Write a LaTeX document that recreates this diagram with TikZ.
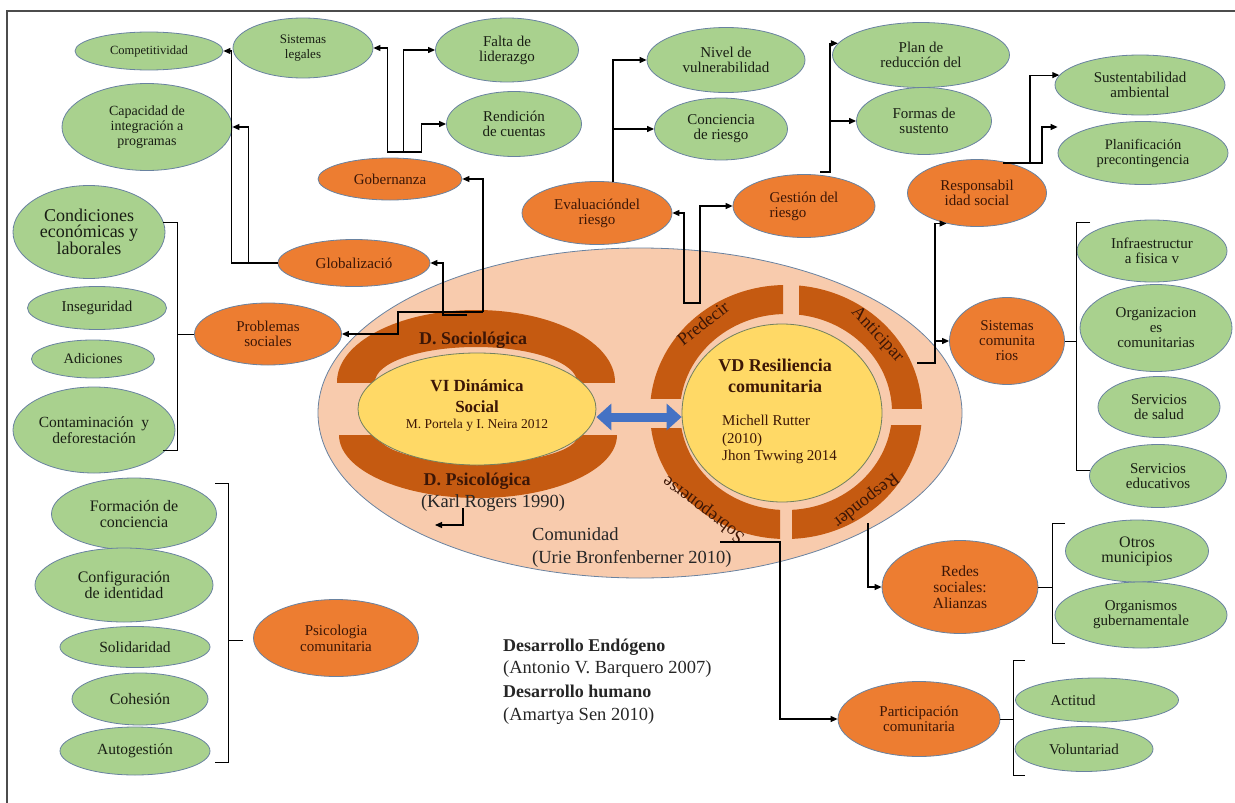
\documentclass[tikz,border=0pt]{standalone}
\usepackage{fontspec}
\setmainfont{Liberation Serif}
\usetikzlibrary{shapes.geometric}
\usetikzlibrary{arrows.meta}
\definecolor{leafgreen}{RGB}{169,209,142}
\definecolor{hubor}{RGB}{237,125,49}
\definecolor{bandbrown}{RGB}{197,90,17}
\definecolor{peach}{RGB}{248,203,173}
\definecolor{sun}{RGB}{255,217,102}
\definecolor{edgeblue}{RGB}{105,130,160}
\definecolor{arrowblue}{RGB}{68,114,196}
\definecolor{inkbrown}{RGB}{60,22,6}
\definecolor{inkdark}{RGB}{25,30,20}
\tikzset{leaf/.style = {ellipse, draw=edgeblue, line width=0.8pt, fill=leafgreen, inner sep=0,
                        align=center, text=inkdark, font=\fontsize{15}{15}\selectfont}}
\tikzset{hub/.style = {ellipse, draw=edgeblue, line width=0.8pt, fill=hubor, inner sep=0,
                       align=center, text=inkbrown, font=\fontsize{15}{15}\selectfont}}
\tikzset{core/.style = {ellipse, draw=edgeblue!60!olive, line width=0.8pt, fill=sun, inner sep=0}}
\tikzset{band/.style = {fill=bandbrown}}
\tikzset{lbl/.style = {inner sep=0, text=inkbrown, font=\fontsize{18}{18}\selectfont}}
\tikzset{txt/.style = {inner sep=0, text=black!85, font=\fontsize{18.5}{18.5}\selectfont}}
\tikzset{arr/.style = {draw=black, line width=1.1pt, -{Triangle[length=7pt, width=6pt]}}}
\tikzset{brk/.style = {draw=black, line width=0.9pt}}
\tikzset{dbl/.style = {draw=arrowblue, line width=9pt,
                       {Triangle[length=15pt, width=26pt]}-{Triangle[length=15pt, width=26pt]}}}

\begin{document}
\begin{tikzpicture}[x=1pt, y=-1pt]
      \useasboundingbox (0,0) rectangle (1235,803);
      \draw [line width=1.2pt, black!70] (7,803) -- (7,11) -- (1235,11);

      \node [ellipse, draw=edgeblue, line width=0.8pt, fill=peach, minimum width=644, minimum height=330] (com) at (640,413) {};

      \begin{scope}
        \clip (320,290) rectangle (640,382);
        \fill [band, even odd rule] (476,382) ellipse (139pt and 72pt) (476,382) ellipse (101pt and 35pt);
      \end{scope}
      \begin{scope}
        \clip (320,435) rectangle (640,520);
        \fill [band, even odd rule] (478,435) ellipse (139pt and 63pt) (478,435) ellipse (100pt and 28pt);
      \end{scope}
      \coordinate (vdc) at (786,412);
      \foreach \xa/\ya/\xb/\yb in {640/270/783/398, 799/270/940/408, 792/425/940/560, 640/428/780/560} {
        \begin{scope}
          \clip (\xa,\ya) rectangle (\xb,\yb);
          \fill [band, even odd rule] (vdc) ellipse (136pt and 127pt) (vdc) ellipse (106pt and 98pt);
        \end{scope}
      }

      \node [core, minimum width=238, minimum height=112] (vi) at (477,409) {};
      \node [core, minimum width=200, minimum height=178] (vd) at (782,413) {};

      \node [lbl, anchor=base, font=\bfseries\fontsize{18}{18}\selectfont] (soc) at (473,344) {D. Sociológica};
      \node [lbl, anchor=base, font=\bfseries\fontsize{18}{18}\selectfont] (psi) at (477,485) {D. Psicológica};
      \node [txt, anchor=base] (rogers) at (493,507) {(Karl Rogers 1990)};
      \node [lbl, rotate=38] (pred) at (703,323) {Predecir};
      \node [lbl, rotate=-47] (anti) at (877,335) {Anticipar};
      \node [lbl, rotate=218] (respo) at (866,500) {Responder};
      \node [lbl, rotate=143] (sobre) at (704,509) {Sobreponerse};

      \node [inner sep=0, align=center, text=inkbrown, font=\bfseries\fontsize{17}{21}\selectfont] (vititle) at (477,396) {VI Dinámica\\Social};
      \node [inner sep=0, anchor=base, text=inkbrown, font=\fontsize{13.5}{13.5}\selectfont] (viref) at (477,428) {M. Portela y I. Neira 2012};
      \node [inner sep=0, align=center, text=inkbrown, font=\bfseries\fontsize{18}{21}\selectfont] (vdtitle) at (775,376) {VD Resiliencia\\comunitaria};
      \node [inner sep=0, anchor=north west, align=left, text=inkbrown, font=\fontsize{15}{17.5}\selectfont] (vdref) at (722,415) {Michell Rutter\\(2010)\\Jhon Twwing 2014};

      \node [txt, anchor=base west] (comname) at (532,540) {Comunidad};
      \node [txt, anchor=base west] (comref) at (532,563) {(Urie Bronfenberner 2010)};
      \node [txt, anchor=base west, font=\bfseries\fontsize{18}{18}\selectfont] (endo) at (503,651) {Desarrollo Endógeno};
      \node [txt, anchor=base west] (endoref) at (503,673) {(Antonio V. Barquero 2007)};
      \node [txt, anchor=base west, font=\bfseries\fontsize{18}{18}\selectfont] (huma) at (503,697) {Desarrollo humano};
      \node [txt, anchor=base west] (humaref) at (503,720) {(Amartya Sen 2010)};

      \node [leaf, minimum width=148, minimum height=38, font=\fontsize{12.5}{14}\selectfont] (comp) at (149,51) {Competitividad};
      \node [leaf, minimum width=140, minimum height=60, font=\fontsize{13}{15}\selectfont] (sist) at (303,48) {Sistemas\\legales};
      \node [leaf, minimum width=170, minimum height=87, font=\fontsize{14}{15}\selectfont] (capa) at (147,127) {Capacidad de\\integración a\\programas};
      \node [leaf, minimum width=143, minimum height=64] (falta) at (507,50) {Falta de\\liderazgo};
      \node [leaf, minimum width=135, minimum height=65] (rend) at (514,124) {Rendición\\de cuentas};
      \node [leaf, minimum width=158, minimum height=65] (nivel) at (726,60) {Nivel de\\vulnerabilidad};
      \node [leaf, minimum width=133, minimum height=62] (conc) at (721,129) {Conciencia\\de riesgo};
      \node [leaf, minimum width=177, minimum height=65] (plan) at (921,55) {Plan de\\reducción del};
      \node [leaf, minimum width=135, minimum height=67] (formas) at (924,121) {Formas de\\sustento};
      \node [leaf, minimum width=170, minimum height=60] (sust) at (1140,85) {Sustentabilidad\\ambiental};
      \node [leaf, minimum width=170, minimum height=63, font=\fontsize{14.5}{15}\selectfont] (planif) at (1143,153) {Planificación\\precontingencia};
      \node [leaf, minimum width=150, minimum height=62] (infra) at (1152,251) {Infraestructur\\a fisica v};
      \node [leaf, minimum width=152, minimum height=87] (orgs) at (1156,328) {Organizacion\\es\\comunitarias};
      \node [leaf, minimum width=122, minimum height=61] (salud) at (1159,407) {Servicios\\de salud};
      \node [leaf, minimum width=137, minimum height=63] (educ) at (1158,476) {Servicios\\educativos};
      \node [leaf, minimum width=143, minimum height=62, font=\fontsize{16}{15}\selectfont] (otros) at (1137,551) {Otros\\municipios};
      \node [leaf, minimum width=172, minimum height=66] (organ) at (1141,615) {Organismos\\gubernamentale};
      \node [leaf, minimum width=163, minimum height=44] (actitud) at (1097,700) {Actitud\hspace*{48pt}};
      \node [leaf, minimum width=138, minimum height=45] (volunt) at (1084,749) {Voluntariad};

      \node [leaf, minimum width=152, minimum height=93, font=\fontsize{18}{16}\selectfont] (cond) at (89,232) {Condiciones\\económicas y\\laborales};
      \node [leaf, minimum width=139, minimum height=43] (inseg) at (97,308) {Inseguridad};
      \node [leaf, minimum width=123, minimum height=38, font=\fontsize{14.5}{15}\selectfont] (adic) at (93,359) {Adiciones};
      \node [leaf, minimum width=162, minimum height=86, font=\fontsize{15.5}{16}\selectfont] (contam) at (94,430) {Contaminación~ y\\deforestación};
      \node [leaf, minimum width=165, minimum height=72, font=\fontsize{16}{16}\selectfont] (formac) at (134,514) {Formación de\\conciencia};
      \node [leaf, minimum width=178, minimum height=74, font=\fontsize{16}{16}\selectfont] (config) at (124,585) {Configuración\\de identidad};
      \node [leaf, minimum width=150, minimum height=41, font=\fontsize{15.5}{16}\selectfont] (solid) at (135,647) {Solidaridad};
      \node [leaf, minimum width=136, minimum height=52, font=\fontsize{16}{16}\selectfont] (cohes) at (140,699) {Cohesión};
      \node [leaf, minimum width=150, minimum height=48, font=\fontsize{15.5}{16}\selectfont] (autog) at (135,751) {Autogestión};

      \node [hub, minimum width=144, minimum height=42] (gob) at (390,179) {Gobernanza};
      \node [hub, minimum width=152, minimum height=47] (glob) at (354,263) {Globalizació};
      \node [hub, minimum width=147, minimum height=62] (prob) at (268,334) {Problemas\\sociales};
      \node [hub, minimum width=150, minimum height=63] (eval) at (597,213) {Evaluacióndel\\riesgo};
      \node [hub, minimum width=142, minimum height=63, align=left] (gest) at (804,206) {Gestión del\\riesgo};
      \node [hub, minimum width=139, minimum height=67] (resp) at (977,193) {Responsabil\\idad social};
      \node [hub, minimum width=115, minimum height=87] (sistc) at (1007,341) {Sistemas\\comunita\\rios};
      \node [hub, minimum width=156, minimum height=93, font=\fontsize{15.5}{16}\selectfont] (redes) at (960,587) {Redes\\sociales:\\Alianzas};
      \node [hub, minimum width=162, minimum height=75] (part) at (919,719) {Participación\\comunitaria};
      \node [hub, minimum width=165, minimum height=77, font=\fontsize{15}{16}\selectfont] (psico) at (336,638) {Psicologia\\comunitaria};

      \coordinate (dblL) at ([yshift=-8pt]vi.east);
      \coordinate (dblR) at ([yshift=-4pt]vd.west);
      \draw [dbl] (dblL) -- (dblR);

      \coordinate (sochub) at (483,312);
      \coordinate (glohub) at (467,315);
      \coordinate (gobhub) at (395,152);
      \coordinate (evalhub) at (613,182);
      \coordinate (predhub) at (692,303);
      \coordinate (gesthub) at (820,172);
      \coordinate (antihub) at (917,363);
      \coordinate (resphub) at (1003,163);
      \coordinate (rsphub) at (868,523);
      \coordinate (sobhub) at (720,542);
      \coordinate (rogA) at (463,508);
      \coordinate (rogB) at (435,525);

      \draw [arr] (sochub) |- (gob.east);
      \draw [arr] (sochub) -- ++(-85,0) |- (prob.east);
      \draw [arr] (glohub) -- ++(-24,0) |- (glob.east);
      \draw [arr] (glob.west) -- ++(-29,0) |- (capa.east);
      \draw [arr] (glob.west) -- ++(-46,0) |- (comp.east);
      \draw [arr] (gobhub) -| ([xshift=14]sist.east) -- (sist.east);
      \draw [arr] (gobhub) -| ([xshift=-32]falta.west) -- (falta.west);
      \draw [arr] (gobhub) -| ([xshift=-25]rend.west) -- (rend.west);
      \draw [arr] (evalhub) |- (nivel.west);
      \draw [arr] (evalhub) |- (conc.west);
      \draw [arr] (predhub) -- ++(-8,0) |- (eval.east);
      \draw [arr] (predhub) -- ++(8,0) |- (gest.west);
      \draw [arr] (gesthub) -- ++(10,0) |- (plan.172);
      \draw [arr] (gesthub) -- ++(10,0) |- (formas.west);
      \draw [arr] (antihub) -- ++(18,0) |- (sistc.west);
      \draw [arr] (antihub) -- ++(18,0) |- (resp.225);
      \draw [arr] (resphub) -- ++(27,0) |- (sust.173);
      \draw [arr] (resphub) -- ++(39,0) |- ([yshift=26pt]planif.west);
      \draw [arr] (rsphub) |- (redes.west);
      \draw [arr] (sobhub) -- ++(60,0) |- (part.west);
      \draw [arr] (rogA) |- (rogB);

      \draw [brk] (163,222) -- (177,222) -- (177,450) -- (163,450);
      \draw [brk] (prob.west) -- ++(-17,0);
      \draw [brk] (215,483) -- (228,483) -- (228,762) -- (215,762);
      \draw [brk] (228,640) -- (243,640);
      \draw [brk] (1090,222) -- (1076,222) -- (1076,470) -- (1090,470);
      \draw [brk] (sistc.east) -- ++(11,0);
      \draw [brk] (1065,523) -- (1052,523) -- (1052,643) -- (1065,643);
      \draw [brk] (redes.east) -- ++(14,0);
      \draw [brk] (1025,660) -- (1013,660) -- (1013,775) -- (1025,775);
      \draw [brk] (part.east) -- ++(13,0);
    \end{tikzpicture}
\end{document}
